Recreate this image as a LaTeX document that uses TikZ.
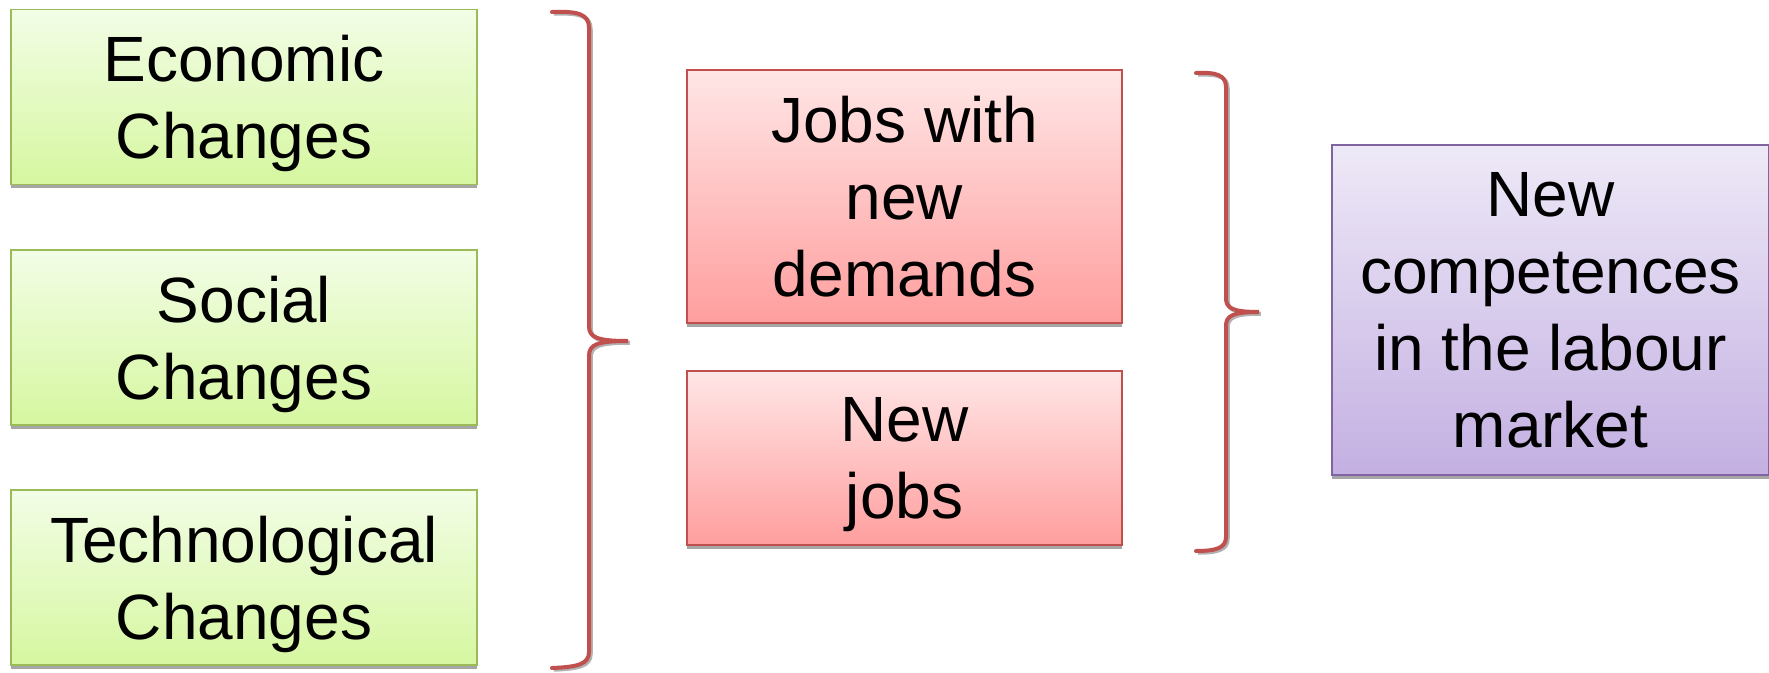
\documentclass[tikz,border=0pt]{standalone}
\usepackage{fontspec}
\setmainfont{Liberation Sans}
\usepackage{xcolor}
\usepackage{tikz}
\usetikzlibrary{shadows}
\definecolor{greenEdge}{HTML}{9BBB59}
\definecolor{greenTop}{HTML}{F2FDE6}
\definecolor{greenBot}{HTML}{D6F7A0}
\definecolor{redEdge}{HTML}{C0504D}
\definecolor{redTop}{HTML}{FFE6E6}
\definecolor{redBot}{HTML}{FF9E9E}
\definecolor{purpleEdge}{HTML}{8064A2}
\definecolor{purpleTop}{HTML}{EEE9F7}
\definecolor{purpleBot}{HTML}{C3B0E2}
\tikzset{ box_base/.style = {rectangle, align=center, line width=0.6pt, inner sep=0pt, text depth=0pt,
    font=\fontsize{25.6}{30.8}\selectfont,
    drop shadow={shadow xshift=0pt, shadow yshift=-1.4pt, fill=gray!70, opacity=1}} }
\tikzset{ change_box/.style = {box_base, draw=greenEdge, top color=greenTop, bottom color=greenBot,
    minimum width=186.4pt, minimum height=70pt} }
\tikzset{ job_box/.style = {box_base, draw=redEdge, top color=redTop, bottom color=redBot,
    minimum width=174pt} }
\tikzset{ result_box/.style = {box_base, draw=purpleEdge, top color=purpleTop, bottom color=purpleBot,
    minimum width=174.8pt, minimum height=132pt} }
\tikzset{ brace_line/.style = {draw=redEdge, line width=1.6pt, line cap=round,
    preaction={draw=gray!60, line width=1.6pt, transform canvas={shift={(0.7pt,-0.7pt)}}}} }

\begin{document}
\begin{tikzpicture}[x=0.4pt, y=-0.4pt]
        \useasboundingbox (0,0) rectangle (1769,673);
        \node[change_box] (econ) at (244,97) {Economic\\Changes};
        \node[change_box] (social) at (244,337.5) {Social\\Changes};
        \node[change_box] (tech) at (244,577.5) {Technological\\Changes};
        \node[job_box, minimum height=101.2pt] (demands) at (904.5,196.5) {Jobs with\\new\\demands};
        \node[job_box, minimum height=69.6pt] (newjobs) at (904.5,458) {New\\jobs};
        \node[result_box] (market) at (1550.5,310) {New\\competences\\in the labour\\market};
        \draw[brace_line] (552,12) .. controls (578,11) and (589,14) .. (589,28) -- (589,326)
            .. controls (589,337) and (596,341) .. (628,341) .. controls (596,341) and (589,345) .. (589,356)
            -- (589,652) .. controls (589,664) and (578,667) .. (552,668);
        \draw[brace_line] (1196,73) .. controls (1216,72) and (1226,75) .. (1226,87) -- (1226,298)
            .. controls (1226,308) and (1232,312) .. (1259,312) .. controls (1232,312) and (1226,316) .. (1226,326)
            -- (1226,537) .. controls (1226,548) and (1216,551) .. (1196,551);
    \end{tikzpicture}
\end{document}
